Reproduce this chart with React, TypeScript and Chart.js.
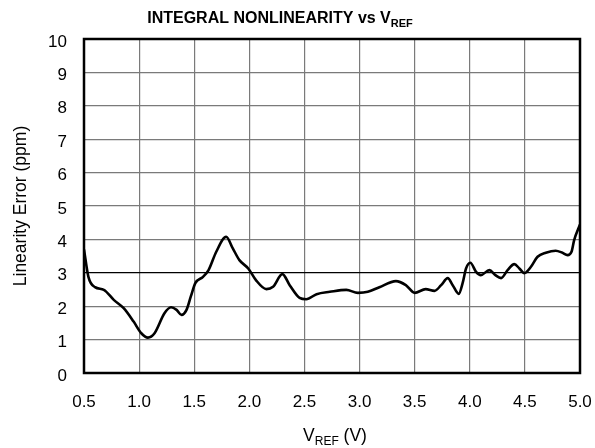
import React, { useEffect, useRef } from "react";
import { Chart, registerables } from "chart.js";

Chart.register(...registerables);

// ---- Data ----
const vref = [
  0.5, 0.54, 0.6, 0.68, 0.77, 0.86, 0.95, 1.02, 1.08, 1.14,
  1.23, 1.29, 1.34, 1.385, 1.43, 1.47, 1.51, 1.58, 1.63, 1.7,
  1.79, 1.85, 1.91, 1.99, 2.06, 2.155, 2.215, 2.3, 2.366, 2.456,
  2.517, 2.61, 2.73, 2.88, 2.985, 3.075, 3.18, 3.33, 3.42, 3.5,
  3.6, 3.68, 3.74, 3.8, 3.845, 3.9, 3.935, 3.966, 4.005, 4.057,
  4.1, 4.178, 4.232, 4.284, 4.343, 4.404, 4.45, 4.495, 4.555, 4.615,
  4.69, 4.78, 4.84, 4.887, 4.923, 4.947, 5.0,
];
const linearityError = [
  3.7, 2.88, 2.57, 2.49, 2.19, 1.94, 1.54, 1.19, 1.06, 1.19,
  1.79, 1.97, 1.89, 1.74, 1.89, 2.3, 2.69, 2.88, 3.08, 3.63,
  4.08, 3.73, 3.38, 3.13, 2.78, 2.51, 2.58, 2.96, 2.63, 2.25,
  2.21, 2.36, 2.43, 2.49, 2.4, 2.43, 2.57, 2.75, 2.63, 2.4,
  2.51, 2.46, 2.63, 2.84, 2.63, 2.37, 2.69, 3.13, 3.3, 3.03,
  2.93, 3.08, 2.93, 2.84, 3.08, 3.26, 3.13, 2.99, 3.18, 3.48,
  3.6, 3.66, 3.6, 3.53, 3.63, 3.98, 4.45,
];

const titleMain = "INTEGRAL NONLINEARITY vs V";
const titleSub = "REF";
const xTitleMain = "V";
const xTitleSub = "REF";
const xTitleRest = " (V)";
const yTitle = "Linearity Error (ppm)";

const X_MIN = 0.5;
const X_MAX = 5.0;
const X_STEP = 0.5;
const Y_MIN = 0;
const Y_MAX = 10;
const Y_STEP = 1;

const FONT = "'Liberation Sans', Arial, Helvetica, sans-serif";

function drawWithSub(
  ctx: CanvasRenderingContext2D,
  parts: { text: string; sub?: boolean }[],
  cx: number,
  baseline: number,
  size: number,
  bold: boolean
) {
  const w = bold ? "bold " : "";
  const mainFont = `${w}${size}px ${FONT}`;
  const subFont = `${w}${Math.round(size * 0.7)}px ${FONT}`;
  let total = 0;
  for (const p of parts) {
    ctx.font = p.sub ? subFont : mainFont;
    total += ctx.measureText(p.text).width;
  }
  let x = cx - total / 2;
  ctx.textAlign = "left";
  ctx.textBaseline = "alphabetic";
  for (const p of parts) {
    ctx.font = p.sub ? subFont : mainFont;
    ctx.fillText(p.text, x, baseline + (p.sub ? size * 0.22 : 0));
    x += ctx.measureText(p.text).width;
  }
}

const decorPlugin = {
  id: "decor",
  afterDraw(chart: any) {
    const { ctx, chartArea } = chart;
    const { left, top, right, bottom } = chartArea;
    ctx.save();
    ctx.strokeStyle = "#000";
    ctx.lineWidth = 2.5;
    ctx.strokeRect(left, top, right - left, bottom - top);
    ctx.fillStyle = "#000";
    const cx = (left + right) / 2;
    drawWithSub(ctx, [{ text: titleMain }, { text: titleSub, sub: true }], 280, 23, 16, true);
    drawWithSub(
      ctx,
      [{ text: xTitleMain }, { text: xTitleSub, sub: true }, { text: xTitleRest }],
      cx + 3,
      441,
      17.5,
      false
    );
    ctx.translate(26, (top + bottom) / 2);
    ctx.rotate(-Math.PI / 2);
    ctx.font = `17.5px ${FONT}`;
    ctx.textAlign = "center";
    ctx.textBaseline = "alphabetic";
    ctx.fillText(yTitle, 0, 0);
    ctx.restore();
  },
};

export default function App() {
  const ref = useRef<HTMLCanvasElement | null>(null);
  useEffect(() => {
    if (!ref.current) return;
    const chart = new Chart(ref.current, {
      type: "line",
      data: {
        datasets: [
          {
            data: vref.map((v, i) => ({ x: v, y: linearityError[i] })),
            borderColor: "#000",
            borderWidth: 2.6,
            pointRadius: 0,
            tension: 0.4,
            cubicInterpolationMode: "monotone",
            fill: false,
          },
        ],
      },
      options: {
        animation: false,
        responsive: false,
        devicePixelRatio: 1,
        layout: { padding: { left: 0, top: 39, right: 15, bottom: 0 } },
        plugins: { legend: { display: false }, title: { display: false }, tooltip: { enabled: false } },
        scales: {
          x: {
            type: "linear",
            min: X_MIN,
            max: X_MAX,
            afterFit: (s: any) => {
              s.height = 75;
              s.paddingLeft = 0;
              s.paddingRight = 0;
            },
            ticks: {
              stepSize: X_STEP,
              color: "#000",
              padding: 19,
              maxRotation: 0,
              font: { family: FONT, size: 17 },
              callback: (v: any) => Number(v).toFixed(1),
            },
            grid: { color: "#7a7a7a", lineWidth: 1.2, drawTicks: false },
            border: { display: false },
          },
          y: {
            type: "linear",
            min: Y_MIN,
            max: Y_MAX,
            afterFit: (s: any) => {
              s.width = 84;
              s.paddingTop = 0;
              s.paddingBottom = 0;
            },
            ticks: {
              stepSize: Y_STEP,
              color: "#000",
              padding: 17,
              labelOffset: 3,
              font: { family: FONT, size: 17 },
            },
            grid: {
              color: (c: any) => (c.tick && c.tick.value === 3 ? "#000" : "#7a7a7a"),
              lineWidth: 1.2,
              drawTicks: false,
            },
            border: { display: false },
          },
        },
      },
      plugins: [decorPlugin],
    } as any);
    return () => chart.destroy();
  }, []);
  return (
    <div style={{ position: "absolute", left: 0, top: 0, width: 595, height: 448, background: "#fff" }}>
      <canvas ref={ref} width={595} height={448} style={{ display: "block" }} />
    </div>
  );
}
